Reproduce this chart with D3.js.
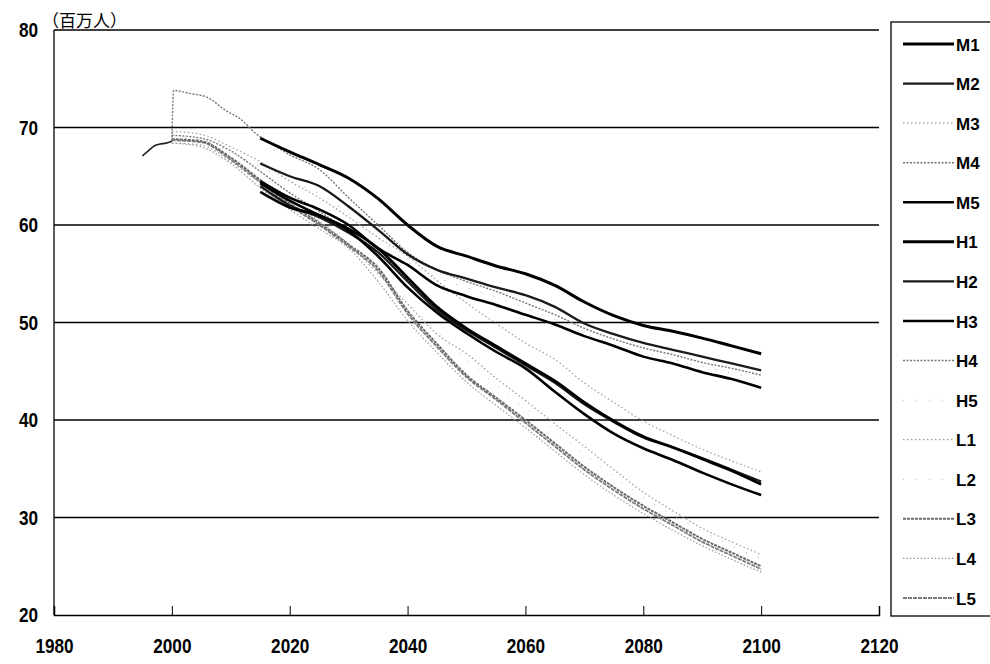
<!DOCTYPE html>
<html>
<head>
<meta charset="utf-8">
<script src="https://cdn.jsdelivr.net/npm/d3@7"></script>
<style>
  html, body { margin: 0; padding: 0; background: #fff; }
  svg text { font-family: "Liberation Sans", Arial, sans-serif; fill: #000; }
</style>
</head>
<body>
<svg id="chart" width="990" height="664"></svg>
<script>
const xTicks = [1980, 2000, 2020, 2040, 2060, 2080, 2100, 2120];
const yTicks = [20, 30, 40, 50, 60, 70, 80];
const unitLabel = "（百万人）";

// 実績 1995-2000
const actual = [[1995, 67.1], [1996, 67.6], [1997, 68.1], [1998, 68.3], [1999, 68.4], [2000, 68.6]];

const yrs5 = [2015, 2020, 2025, 2030, 2035, 2040, 2045, 2050, 2055, 2060, 2065, 2070, 2075, 2080, 2085, 2090, 2095, 2100];
const yrs0 = [2000, 2005, 2010].concat(yrs5);

const M1 = [64.3, 62.5, 61.0, 59.6, 57.6, 54.6, 51.6, 49.4, 47.6, 45.8, 44.0, 41.8, 39.9, 38.3, 37.2, 36.0, 34.8, 33.4];
const M2 = [64.0, 62.0, 60.8, 59.2, 57.2, 54.2, 51.3, 49.2, 47.4, 45.6, 43.8, 41.6, 39.8, 38.2, 37.2, 36.1, 34.9, 33.7];
const M3 = [69.6, 69.3, 68.0, 66.5, 64.5, 62.8, 60.8, 58.7, 56.8, 54.3, 52.0, 49.9, 47.9, 46.2, 43.8, 41.8, 39.9, 38.4, 37.0, 35.8, 34.7];
const M4 = [69.2, 68.9, 67.6, 65.5, 63.3, 61.4, 59.4, 57.2, 54.4, 51.4, 49.3, 47.5, 45.7, 43.9, 41.7, 39.9, 38.2, 37.1, 36.0, 34.8, 33.5];
const M5 = [63.4, 61.8, 61.0, 59.4, 56.8, 53.6, 51.0, 48.9, 47.0, 45.3, 42.9, 40.6, 38.6, 37.1, 35.9, 34.6, 33.4, 32.3];
const H1 = [68.9, 67.5, 66.2, 64.8, 62.7, 60.0, 57.8, 56.8, 55.8, 55.0, 53.8, 52.1, 50.7, 49.7, 49.1, 48.4, 47.6, 46.8];
const H2 = [66.3, 65.0, 64.0, 61.9, 59.5, 57.0, 55.4, 54.5, 53.6, 52.8, 51.6, 49.9, 48.8, 47.9, 47.2, 46.5, 45.8, 45.1];
const H3 = [64.5, 62.8, 61.6, 60.0, 57.6, 55.9, 53.8, 52.7, 51.8, 50.8, 49.8, 48.6, 47.6, 46.5, 45.8, 44.9, 44.2, 43.3];
const H4early = [[2000, 68.6], [2000.3, 73.8], [2003, 73.5], [2006, 73.1], [2009, 71.8], [2012, 70.7], [2014, 69.5], [2017, 68.3]];
const H4 = [67.2, 65.7, 62.8, 60.0, 57.2, 55.4, 54.2, 53.2, 52.0, 50.8, 49.4, 48.3, 47.4, 46.7, 45.9, 45.3, 44.6];
const H5 = [69.0, 68.7, 67.4, 66.0, 64.6, 63.2, 61.2, 58.6, 56.2, 54.6, 53.6, 52.6, 51.5, 50.3, 48.9, 47.8, 46.9, 46.2, 45.5, 44.8, 44.1];
const L1 = [68.4, 68.2, 66.5, 64.3, 62.3, 60.4, 58.0, 55.0, 51.9, 48.8, 46.8, 44.3, 42.0, 39.6, 37.3, 34.9, 32.6, 30.7, 28.9, 27.5, 26.2];
const L2 = [68.6, 68.4, 66.8, 64.8, 62.6, 60.6, 58.4, 55.6, 52.2, 49.0, 46.2, 43.6, 41.2, 38.9, 36.5, 34.2, 32.1, 30.2, 28.6, 27.1, 25.7];
const L3 = [68.8, 68.6, 66.9, 64.6, 62.2, 60.2, 58.0, 55.6, 51.2, 47.8, 44.6, 42.3, 40.0, 37.6, 35.2, 33.1, 31.2, 29.5, 27.8, 26.4, 25.0];
const L4 = [68.4, 68.0, 66.3, 63.8, 61.6, 59.6, 57.6, 54.2, 50.2, 46.9, 43.9, 41.5, 39.2, 36.8, 34.4, 32.3, 30.4, 28.7, 27.1, 25.7, 24.4];
const L5 = [68.7, 68.5, 66.7, 64.4, 62.0, 60.0, 57.8, 55.3, 50.9, 47.5, 44.4, 42.1, 39.7, 37.3, 34.9, 32.8, 30.9, 29.2, 27.5, 26.1, 24.7];

const legendNames = ["M1", "M2", "M3", "M4", "M5", "H1", "H2", "H3", "H4", "H5", "L1", "L2", "L3", "L4", "L5"];

const zip = (years, vals) => vals.map((v, i) => [years[i], v]);
const series = {
  M1: zip(yrs5, M1), M2: zip(yrs5, M2), M3: zip(yrs0, M3), M4: zip(yrs0, M4), M5: zip(yrs5, M5),
  H1: zip(yrs5, H1), H2: zip(yrs5, H2), H3: zip(yrs5, H3), H4: H4early.concat(zip(yrs5.slice(1), H4)), H5: zip(yrs0, H5),
  L1: zip(yrs0, L1), L2: zip(yrs0, L2), L3: zip(yrs0, L3), L4: zip(yrs0, L4), L5: zip(yrs0, L5),
};

const styles = {
  M1: { color: "#000", width: 2.8, dash: null },
  M2: { color: "#1a1a1a", width: 2.2, dash: null },
  M3: { color: "#9a9a9a", width: 1.2, dash: "1.5 2.5" },
  M4: { color: "#777", width: 1.4, dash: "2 1.5" },
  M5: { color: "#000", width: 2.6, dash: null },
  H1: { color: "#000", width: 3, dash: null },
  H2: { color: "#1a1a1a", width: 2.3, dash: null },
  H3: { color: "#000", width: 2.6, dash: null },
  H4: { color: "#777", width: 1.4, dash: "2 1.5" },
  H5: { color: "#b0b0b0", width: 1, dash: "1 12" },
  L1: { color: "#9a9a9a", width: 1.2, dash: "1.5 2.5" },
  L2: { color: "#b0b0b0", width: 1, dash: "1 12" },
  L3: { color: "#6a6a6a", width: 2, dash: "3 1" },
  L4: { color: "#999", width: 1.2, dash: "1.5 2" },
  L5: { color: "#7a7a7a", width: 1.8, dash: "4 1" },
};

const svg = d3.select("#chart");
const x = d3.scaleLinear().domain([1980, 2120]).range([54, 879]);
const y = d3.scaleLinear().domain([20, 80]).range([615, 30]);

// grid lines
svg.append("g").selectAll("line").data(yTicks.filter((t) => t > 20)).join("line")
  .attr("x1", x(1980)).attr("x2", x(2120))
  .attr("y1", (d) => y(d)).attr("y2", (d) => y(d))
  .attr("stroke", "#000").attr("stroke-width", 1.5);

// left border
svg.append("line").attr("x1", x(1980)).attr("x2", x(1980)).attr("y1", y(80)).attr("y2", y(20))
  .attr("stroke", "#000").attr("stroke-width", 1.3);

// bottom axis, ticks pointing inward
const xAxis = svg.append("g").attr("transform", `translate(0,${y(20)})`)
  .call(d3.axisBottom(x).tickValues(xTicks).tickSize(-9).tickFormat(d3.format("d")));
xAxis.select(".domain").attr("stroke", "#000").attr("stroke-width", 1.5);
xAxis.selectAll(".tick line").attr("stroke", "#000").attr("stroke-width", 1);
xAxis.selectAll(".tick text").attr("y", 0).attr("dy", 0)
  .attr("font-size", 20).style("font-weight", "bold")
  .attr("font-family", "\"Liberation Sans\", Arial, sans-serif")
  .attr("transform", "translate(0,38) scale(0.86,1)");

// y labels
svg.append("g").selectAll("text").data(yTicks).join("text")
  .attr("text-anchor", "end").attr("font-size", 20).style("font-weight", "bold")
  .attr("transform", (d) => `translate(38,${y(d) + 7}) scale(0.86,1)`)
  .text((d) => d);

svg.append("text").attr("x", 42).attr("y", 27)
  .attr("font-size", 17)
  .style("font-family", "\"Noto Sans CJK JP\", sans-serif")
  .text(unitLabel);

// lines
const line = d3.line().x((d) => x(d[0])).y((d) => y(d[1])).curve(d3.curveMonotoneX);
const drawOrder = ["H5", "L2", "L4", "L1", "L5", "L3", "M3", "M4", "H4", "M2", "M1", "M5", "H3", "H2", "H1"];
const lines = svg.append("g");
drawOrder.forEach((name) => {
  const s = styles[name];
  lines.append("path").attr("d", line(series[name]))
    .attr("fill", "none").attr("stroke", s.color).attr("stroke-width", s.width)
    .attr("stroke-dasharray", s.dash).attr("stroke-linejoin", "round");
});
lines.append("path").attr("d", line(actual))
  .attr("fill", "none").attr("stroke", "#222").attr("stroke-width", 1.6);

// legend
const legend = svg.append("g");
legend.append("rect").attr("x", 891).attr("y", 22).attr("width", 110).attr("height", 594)
  .attr("fill", "#fff").attr("stroke", "#000").attr("stroke-width", 1.3);
const ly = d3.scalePoint().domain(legendNames).range([44, 598]);
legendNames.forEach((name) => {
  const s = styles[name];
  legend.append("line").attr("x1", 903).attr("x2", 954).attr("y1", ly(name)).attr("y2", ly(name))
    .attr("stroke", s.color).attr("stroke-width", s.width).attr("stroke-dasharray", s.dash);
  legend.append("text").attr("x", 956).attr("y", ly(name) + 6.5)
    .attr("font-size", 17).style("font-weight", "bold")
    .text(name);
});
</script>
</body>
</html>
